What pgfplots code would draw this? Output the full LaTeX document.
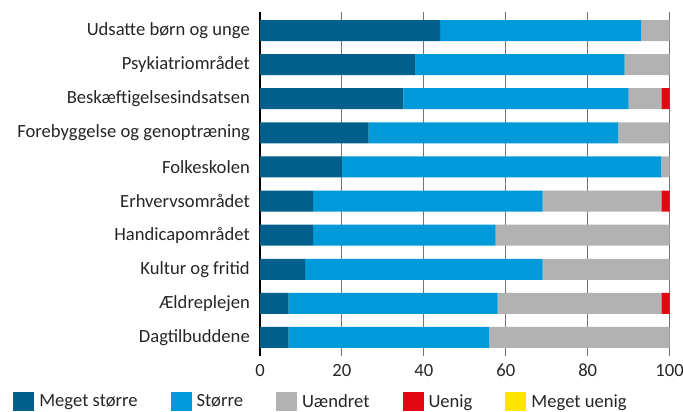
\documentclass[border=0pt]{standalone}
\usepackage{pgfplots}
\pgfplotsset{compat=1.18}
\usepackage{fontspec}
\setmainfont{Carlito}
\definecolor{cdark}{RGB}{0,96,139}
\definecolor{clight}{RGB}{0,154,219}
\definecolor{cgray}{RGB}{178,178,178}
\definecolor{cred}{RGB}{227,6,19}
\definecolor{cyellow}{RGB}{255,229,0}
\begin{document}
\begin{tikzpicture}
\useasboundingbox (-260bp,-56bp) rectangle (423bp,356bp);
\begin{axis}[
  at={(0,0)}, anchor=south west,
  scale only axis,
  width=409.6bp, height=344bp,
  xbar stacked,
  bar width=0.616,
  y dir=reverse,
  xmin=0, xmax=100,
  ymin=-0.543, ymax=9.543,
  xtick={0,20,40,60,80,100},
  ytick={0,...,9},
  yticklabels={Udsatte børn og unge,Psykiatriområdet,Beskæftigelsesindsatsen,Forebyggelse og genoptræning,Folkeskolen,Erhvervsområdet,Handicapområdet,Kultur og fritid,Ældreplejen,Dagtilbuddene},
  axis y line*=left,
  axis x line*=bottom,
  x axis line style={draw=none},
  y axis line style={black, line width=1.2bp, -},
  xtick style={draw=none},
  ytick style={draw=none},
  xmajorgrids,
  major grid style={color=black!55, line width=0.9bp},
  /pgf/number format/assume math mode=true,
  tick label style={font=\fontsize{18.6bp}{22bp}\selectfont, text=black!85},
  yticklabel style={inner sep=0pt, xshift=-10bp},
  xticklabel style={inner sep=0pt, yshift=-8bp},
  legend columns=5,
  legend style={at={(-0.610,-0.132)}, anchor=west, draw=none, fill=none,
    font=\fontsize{18.6bp}{22bp}\selectfont, text=black!85,
    /tikz/every even column/.append style={column sep=28bp},
    nodes={inner xsep=5bp, inner ysep=0pt}},
  legend image code/.code={\fill[#1,draw=none] (0bp,-9.5bp) rectangle (21bp,9.5bp);},
]
\addplot[fill=cdark, draw=none] coordinates {(44,0) (38,1) (35,2) (26.5,3) (20,4) (13,5) (13,6) (11,7) (7,8) (7,9)};
\addplot[fill=clight, draw=none] coordinates {(49,0) (51,1) (55,2) (61,3) (78,4) (56,5) (44.5,6) (58,7) (51,8) (49,9)};
\addplot[fill=cgray, draw=none] coordinates {(7,0) (11,1) (8,2) (12.5,3) (2,4) (29,5) (42.5,6) (31,7) (40,8) (44,9)};
\addplot[fill=cred, draw=none] coordinates {(0,0) (0,1) (2,2) (0,3) (0,4) (2,5) (0,6) (0,7) (2,8) (0,9)};
\addplot[fill=cyellow, draw=none] coordinates {(0,0) (0,1) (0,2) (0,3) (0,4) (0,5) (0,6) (0,7) (0,8) (0,9)};
\legend{Meget større,Større,Uændret,Uenig,Meget uenig}
\end{axis}
\end{tikzpicture}
\end{document}
